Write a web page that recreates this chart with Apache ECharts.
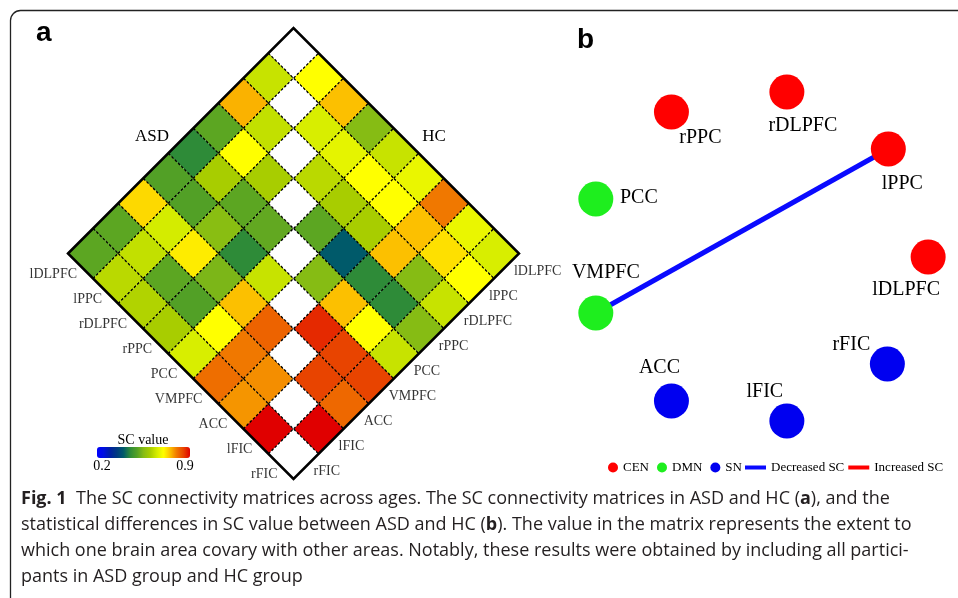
<!DOCTYPE html>
<html><head><meta charset="utf-8">
<script src="https://cdn.jsdelivr.net/npm/echarts@6/dist/echarts.min.js"></script>
<style>html,body{margin:0;padding:0;background:#fff}#c{width:958px;height:598px}</style>
</head><body><div id="c"></div><script>
// ---------- DATA ----------
const regions = ['lDLPFC','lPPC','rDLPFC','rPPC','PCC','VMPFC','ACC','lFIC','rFIC'];
// upper-triangle rows: row k holds SC values for pairs (k, k+1 ... 8)
const asdValues = [
  [0.635,0.76,0.51,0.45,0.50,0.73,0.51,0.51],
  [0.63,0.70,0.60,0.50,0.65,0.63,0.62],
  [0.60,0.51,0.555,0.715,0.51,0.61],
  [0.515,0.45,0.54,0.50,0.60],
  [0.635,0.75,0.70,0.655],
  [0.82,0.80,0.81],
  [0.785,0.78],
  [0.90]
];
const hcValues = [
  [0.70,0.75,0.55,0.635,0.675,0.80,0.675,0.655],
  [0.655,0.67,0.70,0.70,0.75,0.725,0.70],
  [0.62,0.60,0.60,0.75,0.55,0.635],
  [0.51,0.40,0.45,0.45,0.55],
  [0.55,0.75,0.70,0.635],
  [0.87,0.85,0.85],
  [0.85,0.815],
  [0.90]
];
const scMin = 0.2, scMax = 0.9;
const scTickLabels = ['0.2','0.9'];
const groupNames = ['CEN','DMN','SN'];
const nodeNames  = ['rPPC','rDLPFC','lPPC','PCC','VMPFC','lDLPFC','rFIC','ACC','lFIC'];
const nodeGroups = ['CEN','CEN','CEN','DMN','DMN','CEN','SN','SN','SN'];
const nodeX = [112,228,330,36,36,370,329,112,228];
const nodeY = [52,32,89,139,253,197,304,341,361];
const edgeTypes = ['Decreased SC','Increased SC'];
const edgeFrom = ['VMPFC'];
const edgeTo   = ['lPPC'];
const edgeType = ['Decreased SC'];

// ---------- STYLE / LAYOUT ----------
const scColors = ['#0000ff','#0010e0','#0020a0','#003a80','#005a6a','#2e8b38','#52a026',
  '#86bc14','#a8cd00','#d4ec00','#ffff00','#fcc000','#f07800','#e84400','#e00000'];
const groupColors = {CEN:'#ff0000', DMN:'#1eee1e', SN:'#0000f0'};
const edgeColors = {'Decreased SC':'#0a0aff','Increased SC':'#ff0000'};
const labelOffsets = {rPPC:[29,26], rDLPFC:[16,34], lPPC:[14,35], PCC:[43,-1], VMPFC:[10,-40],
  lDLPFC:[-22,33], rFIC:[-36,-19], ACC:[-12,-33], lFIC:[-22,-29]};
const SERIF = 'Liberation Serif';

// ---------- BUILD ----------
const N = regions.length;
const cells = [];
for (let k = 0; k < N; k++) {
  for (let j = k + 1; j < N; j++) {
    cells.push([-(j - k), k + j, asdValues[k][j - k - 1]]);
    cells.push([(j - k), k + j, hcValues[k][j - k - 1]]);
  }
}
const diagCells = regions.map((r, k) => [0, 2 * k]);
const leftLabels = regions.map((r, k) => ({name: r, value: [-(N - 1 - k) - 0.5, (N - 1 + k) + 0.5]}));
const rightLabels = regions.map((r, k) => ({name: r, value: [(N - 1 - k) + 0.5, (N - 1 + k) + 0.5]}));

function diamond(params, api, fill) {
  const x = api.value(0), y = api.value(1);
  const pts = [[x - 1, y], [x, y - 1], [x + 1, y], [x, y + 1]].map(p => api.coord(p));
  return {type: 'polygon', shape: {points: pts},
    style: {fill: fill || api.visual('color'), stroke: '#000', lineWidth: 1.2, lineDash: [2.5, 2]}};
}

const nodeIndex = {};
nodeNames.forEach((n, i) => nodeIndex[n] = i);
const edgeSeries = edgeTypes.map(t => {
  const data = [];
  edgeType.forEach((et, i) => {
    if (et !== t) return;
    const a = nodeIndex[edgeFrom[i]], b = nodeIndex[edgeTo[i]];
    data.push([nodeX[a], nodeY[a]], [nodeX[b], nodeY[b]], null);
  });
  return {type: 'line', name: t, xAxisIndex: 1, yAxisIndex: 1, data: data, symbol: 'none',
    connectNulls: false, color: edgeColors[t], itemStyle: {color: edgeColors[t]},
    lineStyle: {color: edgeColors[t], width: 5}, z: 2, silent: true};
});
const nodeSeries = groupNames.map(g => ({
  type: 'scatter', name: g, xAxisIndex: 1, yAxisIndex: 1, symbolSize: 35, z: 3,
  color: groupColors[g], itemStyle: {color: groupColors[g], opacity: 1},
  data: nodeNames.map((n, i) => nodeGroups[i] === g ? {
    name: n, value: [nodeX[i], nodeY[i]],
    label: {offset: labelOffsets[n]}
  } : null).filter(Boolean),
  label: {show: true, position: 'inside', formatter: '{b}', color: '#000',
    fontFamily: SERIF, fontSize: 20}
}));

const captionFont = {fontFamily: 'Open Sans', fontSize: 18, fill: '#231f20'};
const captionRich = {b: {fontFamily: 'Open Sans', fontSize: 18, fontWeight: 'bold', fill: '#231f20'}};
const captionLines = [
  '{b|Fig. 1}  The SC connectivity matrices across ages. The SC connectivity matrices in ASD and HC ({b|a}), and the',
  'statistical differences in SC value between ASD and HC ({b|b}). The value in the matrix represents the extent to',
  'which one brain area covary with other areas. Notably, these results were obtained by including all partici-',
  'pants in ASD group and HC group'
];
function txt(text, x, y, font, align, extra) {
  return Object.assign({type: 'text', x: x, y: y, silent: true,
    style: Object.assign({text: text, textAlign: align || 'left', align: align || 'left',
      textVerticalAlign: 'middle', verticalAlign: 'middle'}, font)}, extra || {});
}
const graphics = [
  {type: 'rect', silent: true, shape: {x: 10.5, y: 10.5, width: 1200, height: 900, r: 10},
    style: {fill: 'none', stroke: '#222', lineWidth: 1.3}},
  txt('a', 36, 33.5, {fontFamily: 'Liberation Sans', fontSize: 28, fontWeight: 'bold', fill: '#000'}),
  txt('b', 577, 40, {fontFamily: 'Liberation Sans', fontSize: 28, fontWeight: 'bold', fill: '#000'}),
  txt('ASD', 152, 137, {fontFamily: SERIF, fontSize: 17, fill: '#000'}, 'center'),
  txt('HC', 434, 137, {fontFamily: SERIF, fontSize: 17, fill: '#000'}, 'center'),
  txt('SC value', 143, 440, {fontFamily: SERIF, fontSize: 14, fill: '#000'}, 'center'),
  txt(scTickLabels[0], 102, 466, {fontFamily: SERIF, fontSize: 14, fill: '#000'}, 'center'),
  txt(scTickLabels[1], 185, 466, {fontFamily: SERIF, fontSize: 14, fill: '#000'}, 'center')
];
captionLines.forEach((l, i) => {
  graphics.push({type: 'text', x: 21, y: 499 + i * 26, silent: true,
    style: Object.assign({text: l, rich: captionRich, textAlign: 'left', align: 'left',
      textVerticalAlign: 'middle', verticalAlign: 'middle'}, captionFont)});
});

const chart = echarts.init(document.getElementById('c'), null, {renderer: 'canvas'});
chart.setOption({
  animation: false,
  backgroundColor: '#fff',
  grid: [
    {left: 68, top: 28, width: 451, height: 451},
    {left: 560, top: 60, width: 400, height: 400}
  ],
  xAxis: [
    {type: 'value', min: -N, max: N, show: false, gridIndex: 0},
    {type: 'value', min: 0, max: 400, show: false, gridIndex: 1}
  ],
  yAxis: [
    {type: 'value', min: -1, max: 2 * N - 1, inverse: true, show: false, gridIndex: 0},
    {type: 'value', min: 0, max: 400, inverse: true, show: false, gridIndex: 1}
  ],
  visualMap: {
    type: 'continuous', min: scMin, max: scMax, seriesIndex: 0, dimension: 2,
    orient: 'horizontal', left: 97, top: 447, itemWidth: 11, itemHeight: 93,
    calculable: false, padding: 0, hoverLink: false, showLabel: false,
    inRange: {color: scColors}
  },
  legend: [
    {data: groupNames, left: 608, top: 461, itemWidth: 10, itemHeight: 10, icon: 'circle',
      itemGap: 8, padding: 0, selectedMode: false,
      textStyle: {fontFamily: SERIF, fontSize: 13, color: '#000'}},
    {data: edgeTypes, left: 745, top: 461, itemWidth: 21, itemHeight: 4, icon: 'rect',
      itemGap: 4, padding: 0, selectedMode: false,
      textStyle: {fontFamily: SERIF, fontSize: 13, color: '#000'}}
  ],
  graphic: graphics,
  series: [
    {type: 'custom', name: 'cells', data: cells, encode: {x: 0, y: 1},
      renderItem: (p, api) => diamond(p, api), z: 2, silent: true},
    {type: 'custom', name: 'diag', data: diagCells, encode: {x: 0, y: 1},
      renderItem: (p, api) => diamond(p, api, '#ffffff'), z: 2, silent: true},
    {type: 'custom', name: 'border', data: [[0, 0]], z: 3, silent: true,
      renderItem: (p, api) => ({type: 'polygon',
        shape: {points: [[-N, N - 1], [0, -1], [N, N - 1], [0, 2 * N - 1]].map(q => api.coord(q))},
        style: {fill: 'none', stroke: '#000', lineWidth: 2.5}})},
    {type: 'scatter', name: 'rowsL', data: leftLabels, symbolSize: 1, silent: true,
      itemStyle: {color: 'transparent'},
      label: {show: true, position: 'left', distance: 3, offset: [0, 8], formatter: '{b}',
        fontFamily: SERIF, fontSize: 14, color: '#000'}},
    {type: 'scatter', name: 'rowsR', data: rightLabels, symbolSize: 1, silent: true,
      itemStyle: {color: 'transparent'},
      label: {show: true, position: 'right', distance: 7, offset: [0, 5], formatter: '{b}',
        fontFamily: SERIF, fontSize: 14, color: '#000'}}
  ].concat(edgeSeries, nodeSeries)
});
</script></body></html>
